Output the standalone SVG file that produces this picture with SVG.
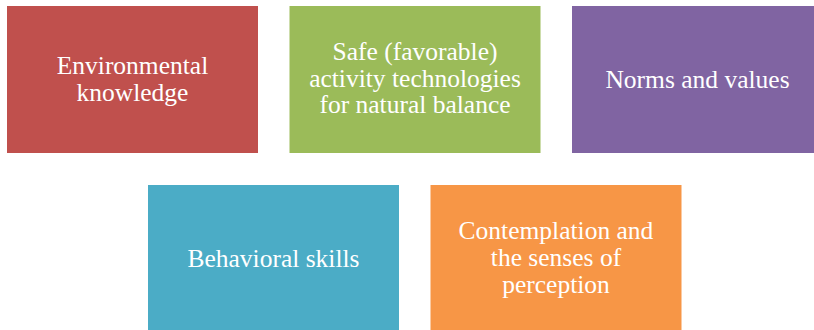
<svg xmlns="http://www.w3.org/2000/svg" width="814" height="330" viewBox="0 0 814 330">
  <style>
    .box { stroke: none; }
    .lbl { font-family: 'Liberation Serif', 'DejaVu Serif', serif; font-size: 25.5px; fill: #ffffff; text-anchor: middle; }
  </style>
  <rect x="0" y="0" width="814" height="330" fill="#ffffff"/>

  <g id="environmental-knowledge">
    <rect class="box" x="7" y="6" width="251" height="147" fill="#C0504D"/>
    <text class="lbl" x="132.5" y="74">Environmental</text>
    <text class="lbl" x="132.5" y="100.5">knowledge</text>
  </g>

  <g id="safe-technologies">
    <rect class="box" x="289.5" y="6" width="251" height="147" fill="#9BBB59"/>
    <text class="lbl" x="415" y="60">Safe (favorable)</text>
    <text class="lbl" x="415" y="86.5">activity technologies</text>
    <text class="lbl" x="415" y="113">for natural balance</text>
  </g>

  <g id="norms-values">
    <rect class="box" x="572" y="6" width="251" height="147" fill="#8064A2"/>
    <text class="lbl" x="697.5" y="88">Norms and values</text>
  </g>

  <g id="behavioral-skills">
    <rect class="box" x="148" y="185" width="251" height="147" fill="#4BACC6"/>
    <text class="lbl" x="273.5" y="267">Behavioral skills</text>
  </g>

  <g id="contemplation-perception">
    <rect class="box" x="430.5" y="185" width="251" height="147" fill="#F79646"/>
    <text class="lbl" x="556" y="239">Contemplation and</text>
    <text class="lbl" x="556" y="266">the senses of</text>
    <text class="lbl" x="556" y="293">perception</text>
  </g>

  <g id="connectors"></g>
</svg>
